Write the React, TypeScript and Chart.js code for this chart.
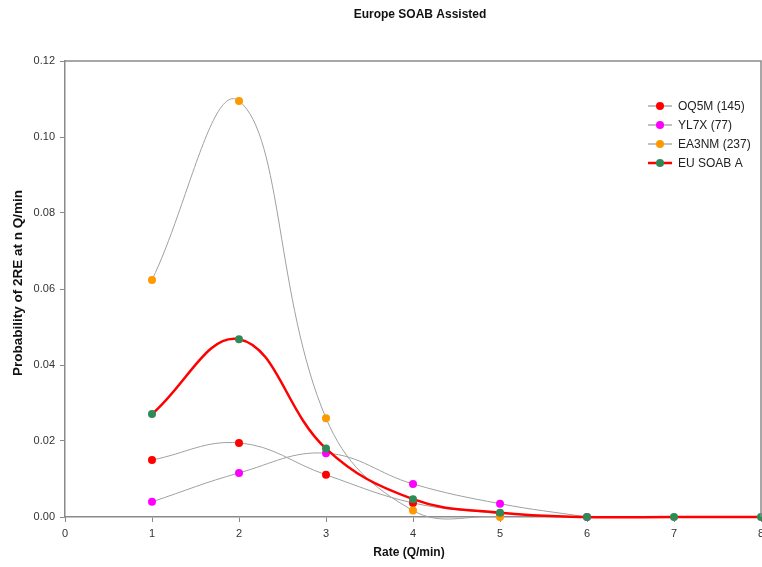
import React, { useEffect, useRef } from "react";
import { Chart, registerables } from "chart.js";

Chart.register(...registerables);

const chartTitle = "Europe SOAB Assisted";
const xAxisTitle = "Rate (Q/min)";
const yAxisTitle = "Probability of 2RE at n Q/min";

const seriesNames = ["OQ5M (145)", "YL7X (77)", "EA3NM (237)", "EU SOAB A"];

// rate (Q/min) -> probability
const oq5mRates = [1, 2, 3, 4, 5];
const oq5mValues = [0.015, 0.0195, 0.0111, 0.0037, 0.0008];

const yl7xRates = [1, 2, 3, 4, 5, 6];
const yl7xValues = [0.004, 0.0116, 0.0168, 0.0087, 0.0035, 0];

const ea3nmRates = [1, 2, 3, 4, 5];
const ea3nmValues = [0.0624, 0.1095, 0.026, 0.0017, 0];

const euRates = [1, 2, 3, 4, 5, 6, 7, 8];
const euValues = [0.0271, 0.0468, 0.018, 0.0047, 0.0011, 0, 0, 0];

const pointColors = ["#ff0000", "#ff00ff", "#ff9900", "#2e8b57"];
const lineColors = ["#a0a0a0", "#a0a0a0", "#a0a0a0", "#ff0000"];
const lineWidths = [1, 1, 1, 2.5];

const FONT = "'Liberation Sans', Arial, sans-serif";
const AXIS_GRAY = "#8a8a8a";

const toPoints = (xs: number[], ys: number[]) => xs.map((x, i) => ({ x, y: ys[i] }));

const textPlugin = {
  id: "textAndFrame",
  afterDraw(chart: any) {
    const { ctx, chartArea } = chart;
    ctx.save();
    // frame on top and right sides of the plot area
    ctx.strokeStyle = AXIS_GRAY;
    ctx.lineWidth = 1.5;
    ctx.beginPath();
    ctx.moveTo(chartArea.left, chartArea.top);
    ctx.lineTo(chartArea.right, chartArea.top);
    ctx.lineTo(chartArea.right, chartArea.bottom);
    ctx.stroke();

    ctx.fillStyle = "#111";
    ctx.textAlign = "center";
    ctx.textBaseline = "middle";
    ctx.font = `bold 12px ${FONT}`;
    ctx.fillText(chartTitle, 420, 15);

    ctx.font = `bold 12px ${FONT}`;
    ctx.fillText(xAxisTitle, 409, 553);

    ctx.save();
    ctx.translate(18, 283);
    ctx.rotate(-Math.PI / 2);
    ctx.font = `bold 13.5px ${FONT}`;
    ctx.fillText(yAxisTitle, 0, 0);
    ctx.restore();

    // legend
    ctx.textAlign = "left";
    ctx.font = `12px ${FONT}`;
    seriesNames.forEach((name, i) => {
      const y = 106 + i * 19;
      ctx.strokeStyle = lineColors[i];
      ctx.lineWidth = lineWidths[i] + (i === 3 ? 0 : 0.3);
      ctx.beginPath();
      ctx.moveTo(648, y);
      ctx.lineTo(672, y);
      ctx.stroke();
      ctx.fillStyle = pointColors[i];
      ctx.beginPath();
      ctx.arc(660, y, 4, 0, Math.PI * 2);
      ctx.fill();
      ctx.fillStyle = "#222";
      ctx.fillText(name, 678, y + 1);
    });
    ctx.restore();
  },
};

export default function App() {
  const canvasRef = useRef<HTMLCanvasElement | null>(null);

  useEffect(() => {
    document.body.style.margin = "0";
    const canvas = canvasRef.current;
    if (!canvas) return;

    const seriesData = [
      toPoints(oq5mRates, oq5mValues),
      toPoints(yl7xRates, yl7xValues),
      toPoints(ea3nmRates, ea3nmValues),
      toPoints(euRates, euValues),
    ];

    const chart = new Chart(canvas, {
      type: "line",
      data: {
        datasets: seriesData.map((data, i) => ({
          label: seriesNames[i],
          data,
          borderColor: lineColors[i],
          borderWidth: lineWidths[i],
          backgroundColor: pointColors[i],
          pointBackgroundColor: pointColors[i],
          pointBorderWidth: 0,
          pointRadius: 4,
          tension: 0.4,
          fill: false,
          clip: false as any,
          order: i === 3 ? 0 : 4 - i,
        })),
      },
      plugins: [textPlugin],
      options: {
        animation: false,
        responsive: false,
        maintainAspectRatio: false,
        elements: { line: { capBezierPoints: false } },
        layout: { autoPadding: false, padding: { left: 0, right: 1, top: 61, bottom: 0 } },
        plugins: {
          legend: { display: false },
          title: { display: false },
          tooltip: { enabled: false },
        },
        scales: {
          x: {
            type: "linear",
            min: 0,
            max: 8,
            afterFit(scale: any) {
              scale.height = 50;
              scale.paddingLeft = 0;
              scale.paddingRight = 0;
            },
            ticks: {
              stepSize: 1,
              font: { family: FONT, size: 11 },
              color: "#333",
              padding: 5,
              maxRotation: 0,
            },
            grid: {
              drawOnChartArea: false,
              drawTicks: true,
              tickLength: 5,
              color: AXIS_GRAY,
            },
            border: { color: AXIS_GRAY, width: 1.5 },
          },
          y: {
            min: 0,
            max: 0.12,
            afterFit(scale: any) {
              scale.width = 65;
              scale.paddingTop = 0;
              scale.paddingBottom = 0;
            },
            ticks: {
              stepSize: 0.02,
              font: { family: FONT, size: 11 },
              color: "#333",
              padding: 5,
              callback: (v: any) => Number(v).toFixed(2),
            },
            grid: {
              drawOnChartArea: false,
              drawTicks: true,
              tickLength: 5,
              color: AXIS_GRAY,
            },
            border: { color: AXIS_GRAY, width: 1.5 },
          },
        },
      },
    });

    return () => chart.destroy();
  }, []);

  return (
    <div style={{ width: 762, height: 567, background: "#fff" }}>
      <canvas ref={canvasRef} width={762} height={567} style={{ display: "block" }} />
    </div>
  );
}
